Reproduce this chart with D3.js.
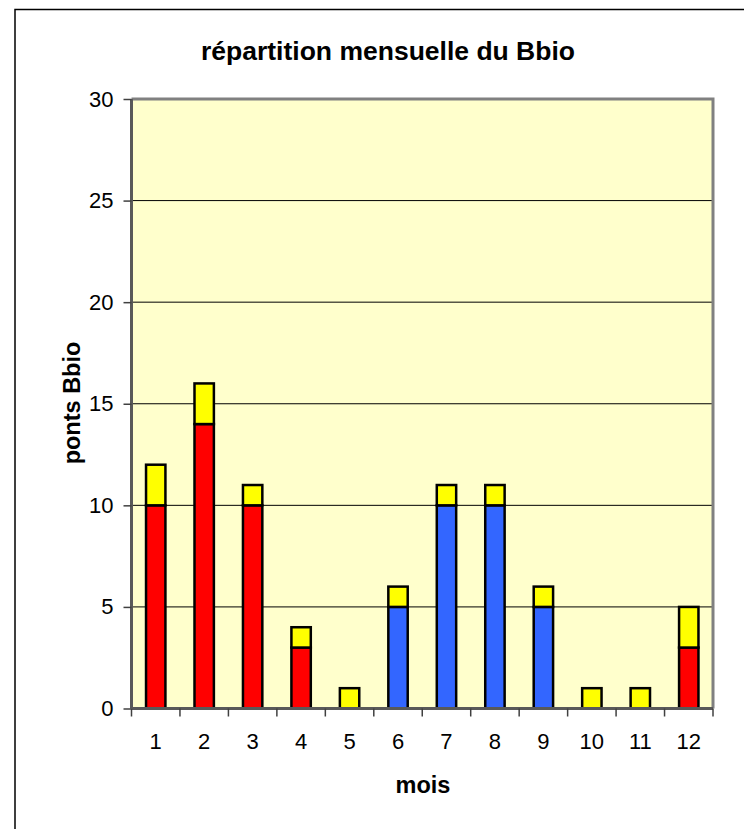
<!DOCTYPE html>
<html><head><meta charset="utf-8">
<script src="https://cdn.jsdelivr.net/npm/d3@7"></script>
<style>body{margin:0;background:#fff}svg{display:block}</style>
</head><body>
<script>
const months = ["1","2","3","4","5","6","7","8","9","10","11","12"];
const chauffage = [10,14,10,3,0,0,0,0,0,0,0,3];
const refroid = [0,0,0,0,0,5,10,10,5,0,0,0];
const eclairage = [2,2,1,1,1,1,1,1,1,1,1,2];
const yTicks = [0,5,10,15,20,25,30];
const seriesKeys = ["chauffage","refroid","eclairage"];
const colors = {chauffage:"#FF0000", refroid:"#3366FF", eclairage:"#FFFF00"};

const W=744,H=829;
const m={left:131.5,right:713,top:99,bottom:708.5};
const svg=d3.select("body").append("svg").attr("width",W).attr("height",H);
const font="Liberation Sans, Arial, sans-serif";

// outer frame (clipped on right/bottom)
svg.append("rect").attr("x",15).attr("y",9.5).attr("width",800).attr("height",900)
  .attr("fill","#fff").attr("stroke","#000").attr("stroke-width",1.5);

const xb=d3.scaleBand().domain(months).range([m.left,m.right]);
const y=d3.scaleLinear().domain([0,30]).range([m.bottom,m.top]);

svg.append("rect").attr("x",m.left).attr("y",m.top).attr("width",m.right-m.left).attr("height",m.bottom-m.top)
  .attr("fill","#FFFFCC");

// gridlines
svg.append("g").selectAll("line").data(yTicks.filter(d=>d>0&&d<30)).join("line")
  .attr("x1",m.left).attr("x2",m.right).attr("y1",d=>y(d)).attr("y2",d=>y(d))
  .attr("stroke","#000").attr("stroke-width",1);

// stacked bars
const data=months.map((mo,i)=>({mo,chauffage:chauffage[i],refroid:refroid[i],eclairage:eclairage[i]}));
const stack=d3.stack().keys(seriesKeys)(data);
const bw=xb.bandwidth()*0.4;
svg.append("g").selectAll("g").data(stack).join("g").attr("fill",s=>colors[s.key])
  .selectAll("rect").data(s=>s.filter(d=>d[1]-d[0]>0)).join("rect")
  .attr("x",d=>xb(d.data.mo)+xb.bandwidth()/2-bw/2).attr("width",bw)
  .attr("y",d=>y(d[1])).attr("height",d=>y(d[0])-y(d[1]))
  .attr("stroke","#000").attr("stroke-width",2.5);

// plot border top/right grey
svg.append("path").attr("d",`M${m.left},${m.top}H${m.right}V${m.bottom}`)
  .attr("fill","none").attr("stroke","#808080").attr("stroke-width",3);

// y axis
const ya=svg.append("g").attr("transform",`translate(${m.left},0)`)
  .call(d3.axisLeft(y).tickValues(yTicks).tickSize(8).tickPadding(10));
// x axis
const xa=svg.append("g").attr("transform",`translate(0,${m.bottom})`)
  .call(d3.axisBottom(xb).tickSize(0).tickPadding(25));
// x ticks at band boundaries
const bounds=months.map(mo=>xb(mo)).concat([m.right]);
svg.append("g").selectAll("line").data(bounds).join("line")
  .attr("x1",d=>d).attr("x2",d=>d).attr("y1",m.bottom).attr("y2",m.bottom+8)
  .attr("stroke","#404040").attr("stroke-width",1.5);

[ya,xa].forEach(a=>{
  a.select(".domain").attr("stroke","#595959").attr("stroke-width",3);
  a.selectAll(".tick line").attr("stroke","#404040").attr("stroke-width",1.5);
  a.selectAll("text").attr("font-family",font).attr("font-size",22).attr("fill","#000");
});
xa.select(".domain").attr("d",`M${m.left},0H${m.right}`);
ya.select(".domain").attr("d",`M0,${m.top}V${m.bottom}`);

svg.append("text").attr("x",388).attr("y",60).attr("text-anchor","middle")
  .attr("font-family",font).attr("font-weight","bold").attr("font-size",26.5).text("répartition mensuelle du Bbio");
svg.append("text").attr("x",423).attr("y",793).attr("text-anchor","middle")
  .attr("font-family",font).attr("font-weight","bold").attr("font-size",23.5).text("mois");
svg.append("text").attr("transform","translate(80,403) rotate(-90)").attr("text-anchor","middle")
  .attr("font-family",font).attr("font-weight","bold").attr("font-size",23.5).text("ponts Bbio");
</script>
</body></html>
